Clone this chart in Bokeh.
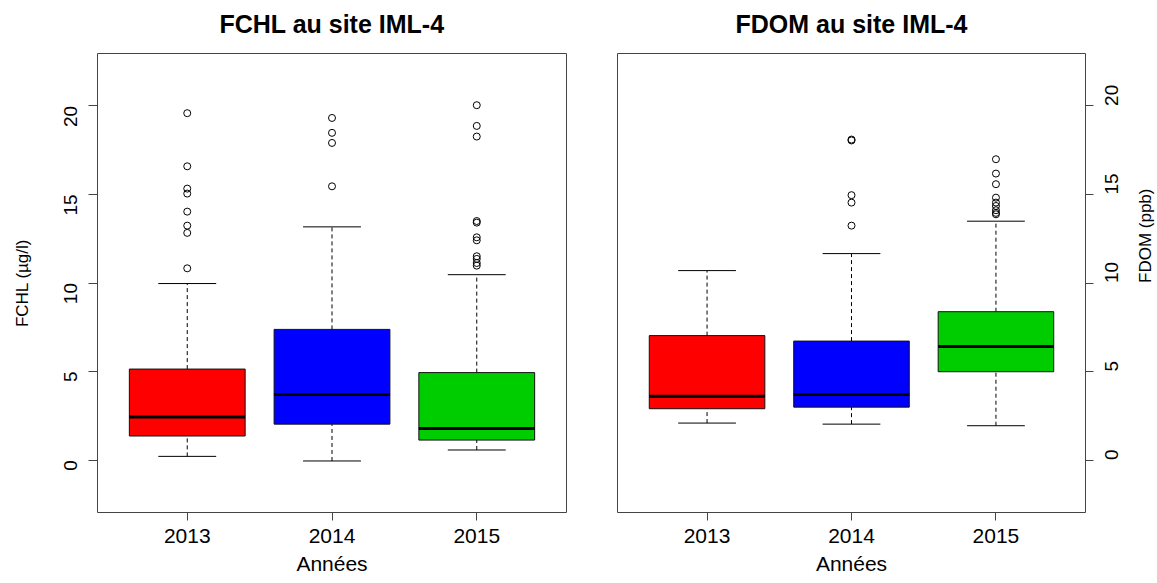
import math
from bokeh.plotting import figure
from bokeh.layouts import row
from bokeh.models import Range1d, FixedTicker, ColumnDataSource, Title
from bokeh.embed import file_html
from bokeh.resources import INLINE

# ---------------- data ----------------
years = ["2013", "2014", "2015"]
colors = ["#FF0000", "#0000FF", "#00CD00"]
y_ticks = [0, 5, 10, 15, 20]

fchl_low = [0.21, -0.05, 0.57]
fchl_q1 = [1.36, 2.03, 1.13]
fchl_med = [2.43, 3.71, 1.79]
fchl_q3 = [5.14, 7.38, 4.94]
fchl_high = [9.97, 13.17, 10.47]
fchl_out = [
    [19.59, 16.59, 15.33, 15.05, 14.03, 13.24, 12.83, 10.83],
    [19.32, 18.48, 17.91, 15.46],
    [20.04, 18.87, 18.27, 13.50, 13.41, 12.58, 12.41, 11.51, 11.36, 11.13, 10.98],
]

fdom_low = [2.09, 2.03, 1.94]
fdom_q1 = [2.90, 2.99, 4.99]
fdom_med = [3.60, 3.71, 6.42]
fdom_q3 = [7.03, 6.72, 8.38]
fdom_high = [10.70, 11.66, 13.49]
fdom_out = [
    [],
    [18.10, 18.05, 14.96, 14.54, 13.24],
    [16.99, 16.18, 15.58, 14.82, 14.54, 14.35, 14.11, 13.96, 13.88],
]

FONT = "Liberation Sans"
FRAME_COL = "#444444"


def make_panel(title, ylabel, low, q1, med, q3, high, out, side,
               border_left, border_right, fwidth):
    xs = [i + 1 for i in range(len(years))]
    p = figure(output_backend="svg", toolbar_location=None,
               frame_width=fwidth, frame_height=459,
               min_border_left=border_left, min_border_right=border_right,
               min_border_top=53, min_border_bottom=71,
               x_range=Range1d(0.38, 3.62), y_range=Range1d(-2.96, 22.96),
               y_axis_location=side, title=title)
    p.background_fill_color = "white"
    p.border_fill_color = "white"
    p.outline_line_color = FRAME_COL
    p.outline_line_width = 1
    p.xgrid.visible = False
    p.ygrid.visible = False

    # small blank spacer between the frame and the main title
    p.add_layout(Title(text=" ", text_font_size="10px", standoff=3), "above")

    p.title.text_font = FONT
    p.title.text_font_size = "25px"
    p.title.text_font_style = "bold"
    p.title.text_color = "black"
    p.title.align = "center"
    p.title.vertical_align = "bottom"
    p.title.standoff = 0

    src = ColumnDataSource(dict(
        x=xs,
        xl=[x - 0.4 for x in xs], xr=[x + 0.4 for x in xs],
        cl=[x - 0.2 for x in xs], cr=[x + 0.2 for x in xs],
        low=low, q1=q1, med=med, q3=q3, high=high, color=colors))

    # whiskers (dashed)
    p.segment(x0="x", y0="q3", x1="x", y1="high", source=src,
              line_color="black", line_width=1, line_dash="4 3")
    p.segment(x0="x", y0="low", x1="x", y1="q1", source=src,
              line_color="black", line_width=1, line_dash="4 3")
    # boxes
    p.vbar(x="x", width=0.8, bottom="q1", top="q3", source=src,
           fill_color="color", line_color="#111111", line_width=1)
    # medians
    p.segment(x0="xl", y0="med", x1="xr", y1="med", source=src,
              line_color="black", line_width=3)
    # caps
    p.segment(x0="cl", y0="high", x1="cr", y1="high", source=src,
              line_color="black", line_width=1)
    p.segment(x0="cl", y0="low", x1="cr", y1="low", source=src,
              line_color="black", line_width=1)
    # outliers
    ox, oy = [], []
    for i, vals in enumerate(out):
        for v in vals:
            ox.append(xs[i])
            oy.append(v)
    p.scatter(x=ox, y=oy, marker="circle", size=7, fill_color=None,
              line_color="black", line_width=1)

    # x axis
    xa = p.xaxis[0]
    xa.ticker = FixedTicker(ticks=xs)
    xa.major_label_overrides = {x: y for x, y in zip(xs, years)}
    xa.axis_label = "Années"
    xa.axis_label_text_font = FONT
    xa.axis_label_text_font_size = "21px"
    xa.axis_label_text_font_style = "normal"
    xa.axis_label_text_color = "black"
    xa.axis_label_standoff = 6
    xa.major_label_text_font = FONT
    xa.major_label_text_font_size = "21px"
    xa.major_label_text_color = "black"
    xa.major_label_standoff = 8
    xa.axis_line_color = None
    xa.major_tick_line_color = FRAME_COL
    xa.major_tick_out = 8
    xa.major_tick_in = 0
    xa.minor_tick_line_color = None

    # y axis
    ya = p.yaxis[0]
    ya.ticker = FixedTicker(ticks=y_ticks)
    ya.major_label_text_font = FONT
    ya.major_label_text_font_size = "19px"
    ya.major_label_text_color = "black"
    ya.major_label_orientation = math.pi / 2
    ya.major_label_standoff = 18
    ya.axis_line_color = None
    ya.major_tick_line_color = FRAME_COL
    ya.major_tick_out = 9 if side == "left" else 8
    ya.major_tick_in = 0
    ya.minor_tick_line_color = None

    ya.axis_label = ylabel
    ya.axis_label_text_font = FONT
    ya.axis_label_text_font_size = "17px"
    ya.axis_label_text_font_style = "normal"
    ya.axis_label_text_color = "black"
    if side == "left":
        ya.axis_label_standoff = 23
    else:
        ya.axis_label_orientation = math.pi / 2
        ya.axis_label_standoff = 18
    return p


p1 = make_panel("FCHL au site IML-4", "FCHL (µg/l)", fchl_low, fchl_q1,
                fchl_med, fchl_q3, fchl_high, fchl_out, "left",
                97, 34, 469)
p2 = make_panel("FDOM au site IML-4", "FDOM (ppb)", fdom_low, fdom_q1,
                fdom_med, fdom_q3, fdom_high, fdom_out, "right",
                17, 72, 468)

layout = row(p1, p2, spacing=0)
open("out.html", "w").write(file_html(layout, INLINE))
